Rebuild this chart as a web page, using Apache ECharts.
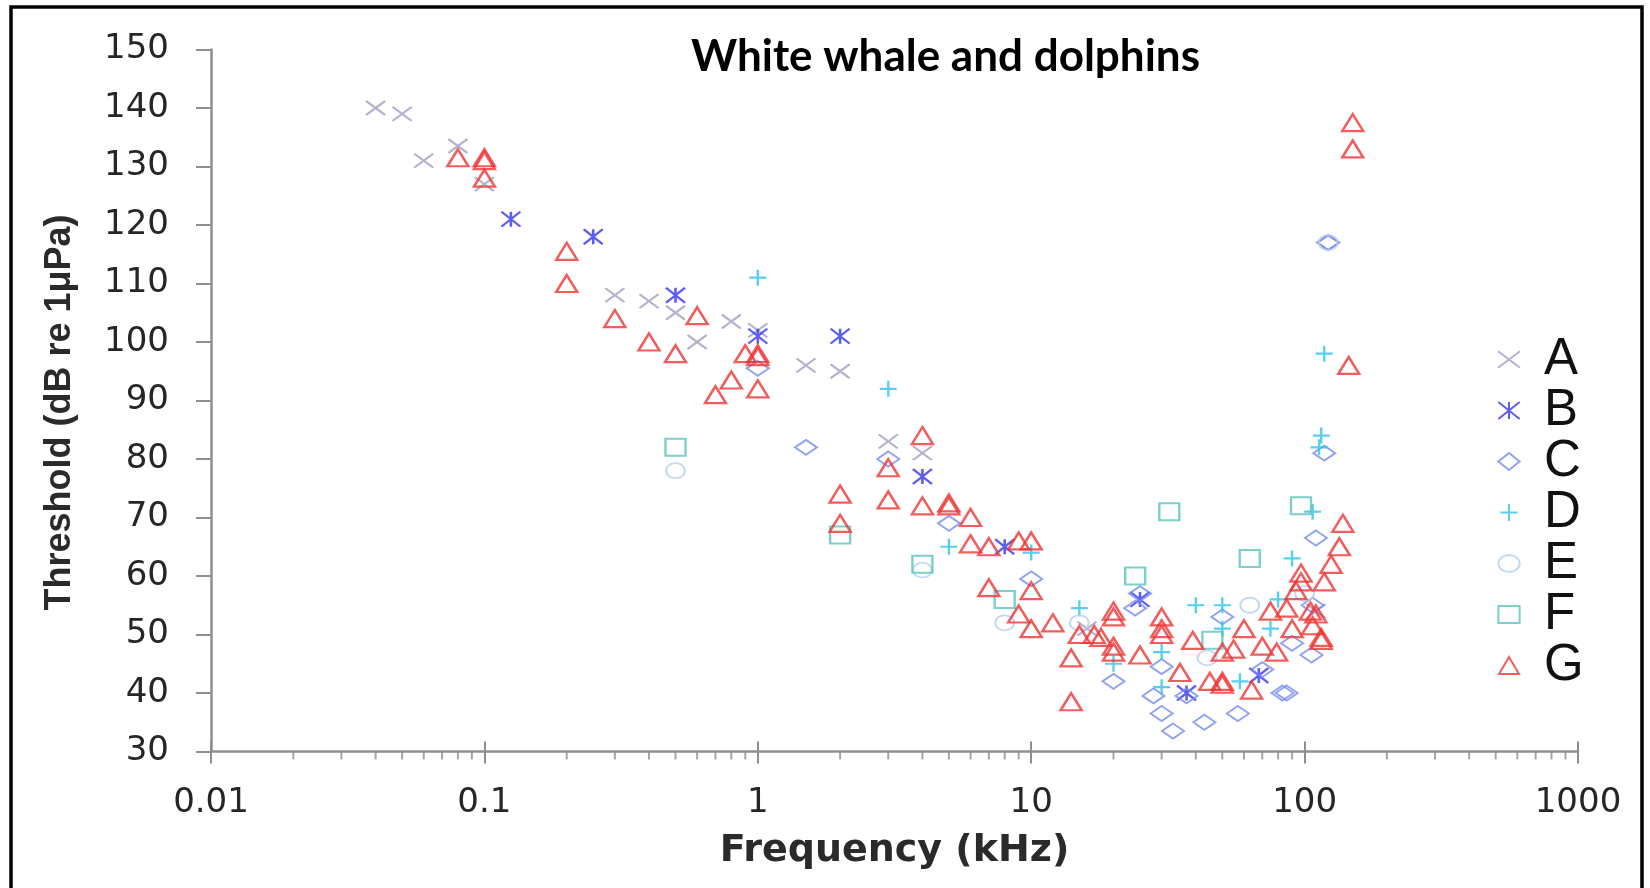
<!DOCTYPE html>
<html>
<head>
<meta charset="utf-8">
<script src="https://cdn.jsdelivr.net/npm/echarts@6/dist/echarts.min.js"></script>
<style>
html,body{margin:0;padding:0;background:#ffffff;}
#chart{width:1650px;height:888px;}
</style>
</head>
<body>
<div id="chart"></div>
<script>
// ---------- data (frequency kHz, threshold dB re 1µPa) ----------
const seriesNames = ['A', 'B', 'C', 'D', 'E', 'F', 'G'];

const dataA = [[0.04,140],[0.05,139],[0.06,131],[0.08,133.5],[0.1,127],[0.3,108],[0.4,107],[0.5,105],
  [0.6,100],[0.8,103.5],[1,102],[1.5,96],[2,95],[3,83],[4,81],[16,51],[110,54]];

const dataB = [[0.125,121],[0.25,118],[0.5,108],[1,101],[2,101],[4,77],[8,65],[25,56],[37,40],[68,43]];

const dataC = [[1,95.5],[1.5,82],[3,80],[5,69],[10,59.5],[20,42],[24,54.5],[25,57],[28,39.5],[30,44.5],
  [30,36.5],[33,33.5],[37,39.5],[43,35],[50,53],[57,36.5],[70,44],[83,40],[86,40],[90,48.5],[106,46.5],
  [107,55],[110,66.5],[118,81],[122,117],[122,117]];

const dataD = [[1,111],[3,92],[5,65],[10,64],[15,54.5],[20,45],[30,47],[30,41],[40,55],[50,55],[50,51],
  [58,42],[75,51],[80,56],[90,63],[107,71],[113,82],[115,84],[118,98]];

const dataE = [[0.5,78],[4,61],[8,52],[15,52],[44,46],[63,55],[100,57],[122,117]];

const dataF = [[0.5,82],[2,67],[4,62],[8,56],[24,60],[32,71],[46,49],[63,63],[97,72]];

const dataG = [[0.08,131.5],[0.1,131.5],[0.1,131],[0.1,128],[0.2,115.5],[0.2,110],[0.3,104],[0.4,100],
  [0.5,98],[0.6,104.5],[0.7,91],[0.8,93.5],[0.9,98],[1,98],[1,97.5],[1,92],[2,74],[2,69],[3,78.5],[3,73],
  [4,84],[4,72],[5,72.5],[5,72],[6,70],[6,65.5],[7,65],[7,58],[9,66],[10,66],[9,53.5],[10,57.5],[10,51],
  [12,52],[14,46],[14,38.5],[15,50],[17,50],[18,49.5],[20,54],[20,53],[20,48],[20,47],[25,46.5],[30,53],
  [30,51],[30,50],[35,43.5],[39,49],[45,42],[50,47],[50,42],[50,41.5],[55,47.5],[60,51],[64,40.5],[70,48],
  [79,47],[75,54],[86,54.5],[90,51],[97,60.5],[97,59],[93,57.5],[105,54],[107,51.5],[115,49.5],[115,49],
  [110,53.5],[118,59],[125,62],[134,65],[138,69],[145,96],[150,133],[150,137.5]];

const xTickValues = [0.01, 0.1, 1, 10, 100, 1000];
const xTickLabels = ['0.01', '0.1', '1', '10', '100', '1000'];
const minorTickFreqs = [0.02,0.03,0.04,0.05,0.06,0.07,0.08,0.09,
  0.2,0.3,0.4,0.5,0.6,0.7,0.8,0.9, 2,3,4,5,6,7,8,9, 20,30,40,50,60,70,80,90,
  200,300,400,500,600,700,800,900];
const yMin = 30, yMax = 150, yStep = 10;

// ---------- styles ----------
const allData = {A: dataA, B: dataB, C: dataC, D: dataD, E: dataE, F: dataF, G: dataG};
const colors = {A:'#a0a0c4', B:'#3535ee', C:'#778bef', D:'#2ec3ec', E:'#b8d0ee', F:'#5ac4bc', G:'#ee3434'};
const symbols = {
  A: 'path://M0,0L20,15M20,0L0,15',
  B: 'path://M0,0L20,16M20,0L0,16M10,0L10,16',
  C: 'path://M10,0L20,8L10,16L0,8Z',
  D: 'path://M9,0L9,18M0,9L18,9',
  E: 'path://M0,8A10,8,0,1,0,20,8A10,8,0,1,0,0,8Z',
  F: 'path://M0,0L20,0L20,16L0,16Z',
  G: 'path://M10,0L20,17L0,17Z'
};
const sizes = {A:[19,14], B:[19,15], C:[22,15], D:[17,16], E:[19,15], F:[20,17], G:[21,17]};
const widths = {A:2.2, B:2.3, C:2, D:2.3, E:2, F:2.2, G:2.4};

const axisGrey = '#8e8e8e';

const series = seriesNames.map((n, i) => ({
  type: 'scatter',
  name: n,
  data: allData[n],
  symbol: symbols[n],
  symbolSize: sizes[n],
  itemStyle: {color: 'rgba(255,255,255,0)', borderColor: colors[n], borderWidth: widths[n]},
  emphasis: {disabled: true},
  z: 3 + i
}));

// minor ticks of the log axis, placed on the x axis line through the scales
series.push({
  type: 'scatter',
  name: 'minorTicks',
  data: minorTickFreqs.map(f => [f, yMin]),
  symbol: 'rect',
  symbolSize: [2, 8],
  symbolOffset: [0, 4],
  itemStyle: {color: axisGrey},
  silent: true,
  clip: false,
  emphasis: {disabled: true},
  z: 1
});

function xLabel(v) {
  let best = 0, bd = Infinity;
  xTickValues.forEach((t, i) => {
    const d = Math.abs(Math.log10(v) - Math.log10(t));
    if (d < bd) { bd = d; best = i; }
  });
  return bd < 0.01 ? xTickLabels[best] : '';
}

const chart = echarts.init(document.getElementById('chart'), null, {renderer: 'canvas'});
chart.setOption({
  animation: false,
  backgroundColor: '#ffffff',
  title: {
    text: 'White whale and dolphins',
    left: 686,
    top: 30,
    textStyle: {fontFamily: 'Lato', fontWeight: 'bold', fontSize: 44, color: '#000'}
  },
  grid: {left: 211, right: 72, top: 49.5, bottom: 136.5, outerBoundsMode: 'none'},
  legend: {
    orient: 'vertical',
    left: 1492,
    top: 329,
    itemWidth: 22,
    itemHeight: 17,
    itemGap: 0,
    selectedMode: false,
    data: seriesNames,
    textStyle: {fontFamily: 'Liberation Sans', fontSize: 51, lineHeight: 51, color: '#111', padding: [0, 0, 0, 19]}
  },
  xAxis: [{
    type: 'log',
    logBase: 10,
    min: xTickValues[0],
    max: xTickValues[xTickValues.length - 1],
    splitNumber: 5,
    name: 'Frequency (kHz)',
    nameLocation: 'middle',
    nameGap: 81,
    nameTextStyle: {fontFamily: 'DejaVu Sans', fontWeight: 'bold', fontSize: 38, color: '#2a2a2a'},
    axisLine: {show: true, lineStyle: {color: axisGrey, width: 2.5}},
    axisTick: {show: true, length: 12, lineStyle: {color: axisGrey, width: 2}},
    axisLabel: {fontFamily: 'DejaVu Sans', fontSize: 34, color: '#262626', margin: 35, formatter: xLabel},
    splitLine: {show: false}
  }, {
    type: 'log',
    logBase: 10,
    gridIndex: 0,
    position: 'bottom',
    min: xTickValues[0],
    max: xTickValues[xTickValues.length - 1],
    splitNumber: 5,
    axisLine: {show: false},
    axisTick: {show: true, inside: true, length: 10, lineStyle: {color: axisGrey, width: 2}},
    axisLabel: {show: false},
    splitLine: {show: false}
  }],
  yAxis: {
    type: 'value',
    min: yMin,
    max: yMax,
    interval: yStep,
    name: 'Threshold (dB re 1\u03bcPa)',
    nameLocation: 'middle',
    nameGap: 133,
    nameTextStyle: {fontFamily: 'Liberation Sans', fontWeight: 'bold', fontSize: 36, color: '#2a2a2a', padding: [0, 24, 0, 0]},
    axisLine: {show: true, lineStyle: {color: axisGrey, width: 2.5}},
    axisTick: {show: true, length: 15, lineStyle: {color: axisGrey, width: 2}},
    axisLabel: {fontFamily: 'DejaVu Sans', fontSize: 34, color: '#262626', margin: 42},
    splitLine: {show: false}
  },
  graphic: [{
    type: 'rect',
    shape: {x: 11, y: 7, width: 1631, height: 900},
    style: {fill: 'none', stroke: '#000', lineWidth: 3.5},
    silent: true,
    z: 100
  }],
  series: series
});
</script>
</body>
</html>
